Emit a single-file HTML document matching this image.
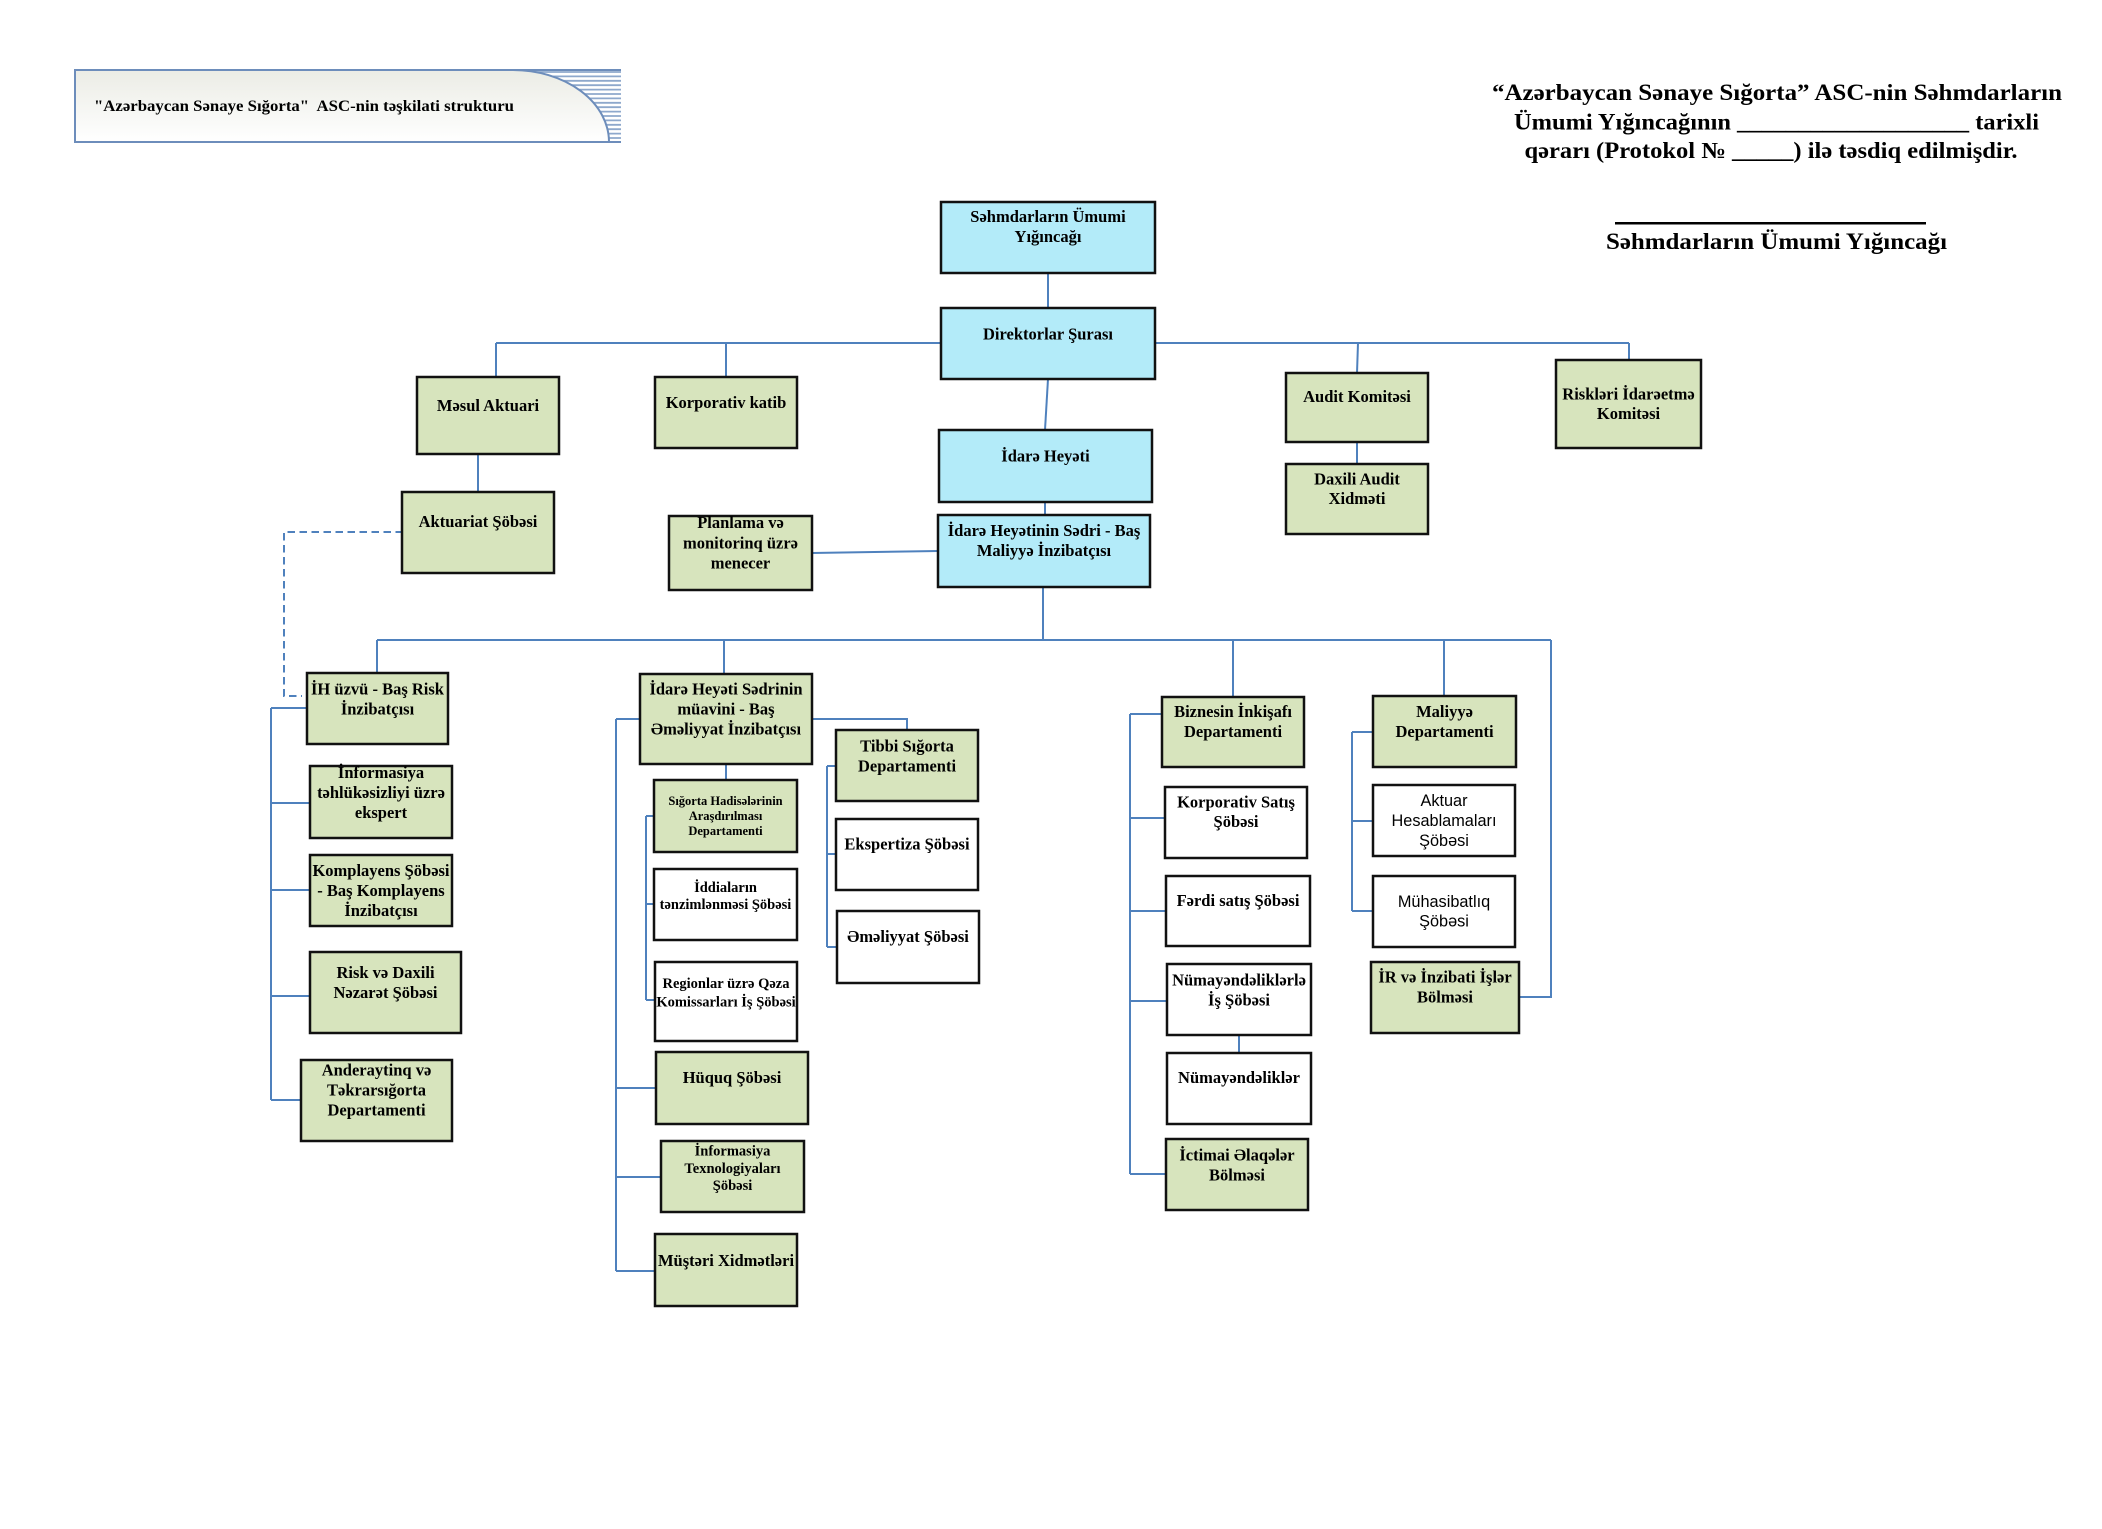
<!DOCTYPE html>
<html>
<head>
<meta charset="utf-8">
<style>
html,body{margin:0;padding:0;background:#fff;}
svg{display:block;}
.t{font-family:"Liberation Serif","DejaVu Serif",serif;font-weight:bold;fill:#000;text-anchor:middle;}
.a{font-family:"Liberation Sans","DejaVu Sans",sans-serif;font-weight:normal;fill:#000;text-anchor:middle;}
.bl{fill:#b3ebf9;stroke:#111;stroke-width:2.5;}
.gr{fill:#d7e4bd;stroke:#111;stroke-width:2.5;}
.wh{fill:#ffffff;stroke:#111;stroke-width:2.5;}
.c{stroke:#4f81bd;stroke-width:2;fill:none;}
</style>
</head>
<body>
<svg width="2102" height="1529" viewBox="0 0 2102 1529" xmlns="http://www.w3.org/2000/svg">
<defs>
<linearGradient id="bg" x1="0" y1="0" x2="0" y2="1">
<stop offset="0" stop-color="#ebece5"/>
<stop offset="1" stop-color="#ffffff"/>
</linearGradient>
</defs>
<rect width="2102" height="1529" fill="#fff"/>

<!-- Banner stripes -->
<g stroke="#8ea8cc" stroke-width="1.8">
<line x1="513" y1="72" x2="621" y2="72"/>
<line x1="513" y1="76.4" x2="621" y2="76.4"/>
<line x1="513" y1="80.8" x2="621" y2="80.8"/>
<line x1="513" y1="85.2" x2="621" y2="85.2"/>
<line x1="513" y1="89.6" x2="621" y2="89.6"/>
<line x1="513" y1="94" x2="621" y2="94"/>
<line x1="513" y1="98.4" x2="621" y2="98.4"/>
<line x1="513" y1="102.8" x2="621" y2="102.8"/>
<line x1="513" y1="107.2" x2="621" y2="107.2"/>
<line x1="513" y1="111.6" x2="621" y2="111.6"/>
<line x1="513" y1="116" x2="621" y2="116"/>
<line x1="513" y1="120.4" x2="621" y2="120.4"/>
<line x1="513" y1="124.8" x2="621" y2="124.8"/>
<line x1="513" y1="129.2" x2="621" y2="129.2"/>
<line x1="513" y1="133.6" x2="621" y2="133.6"/>
<line x1="513" y1="138" x2="621" y2="138"/>
</g>
<path d="M75,70 L513,70 A96,72 0 0 1 609,142 L75,142 Z" fill="url(#bg)" stroke="#6d8dbb" stroke-width="2"/>
<line x1="513" y1="70" x2="621" y2="70" stroke="#6d8dbb" stroke-width="2"/>
<line x1="609" y1="142" x2="621" y2="142" stroke="#6d8dbb" stroke-width="2"/>
<text x="94" y="111" font-family="Liberation Serif, DejaVu Serif, serif" font-weight="bold" font-size="16" xml:space="preserve" textLength="420" lengthAdjust="spacingAndGlyphs">"Azərbaycan Sənaye Sığorta"  ASC-nin təşkilati strukturu</text>

<!-- Right header -->
<text class="t" x="1777" y="100" font-size="23" textLength="570" lengthAdjust="spacingAndGlyphs">“Azərbaycan Sənaye Sığorta” ASC-nin Səhmdarların</text>
<text class="t" x="1776.5" y="129.5" font-size="23" textLength="525" lengthAdjust="spacingAndGlyphs">Ümumi Yığıncağının ___________________ tarixli</text>
<text class="t" x="1771" y="158" font-size="23" textLength="493" lengthAdjust="spacingAndGlyphs">qərarı (Protokol № _____) ilə təsdiq edilmişdir.</text>
<rect x="1615" y="222" width="311" height="2.5" fill="#000"/>
<text class="t" x="1776.5" y="249" font-size="23" textLength="341" lengthAdjust="spacingAndGlyphs">Səhmdarların Ümumi Yığıncağı</text>

<!-- Connectors -->
<g class="c">
<line x1="1048" y1="273" x2="1048" y2="308"/>
<line x1="496" y1="343" x2="1629" y2="343"/>
<line x1="496" y1="343" x2="496" y2="377"/>
<line x1="726" y1="343" x2="726" y2="377"/>
<line x1="1358" y1="343" x2="1357" y2="373"/>
<line x1="1629" y1="343" x2="1629" y2="360"/>
<line x1="1048" y1="379" x2="1045" y2="430"/>
<line x1="1045" y1="502" x2="1045" y2="515"/>
<line x1="478" y1="454" x2="478" y2="492"/>
<line x1="1357" y1="442" x2="1357" y2="464"/>
<line x1="812" y1="553" x2="938" y2="551"/>
<line x1="1043" y1="587" x2="1043" y2="640"/>
<line x1="377" y1="640" x2="1551" y2="640"/>
<line x1="377" y1="640" x2="377" y2="673"/>
<line x1="724" y1="640" x2="724" y2="674"/>
<line x1="1233" y1="640" x2="1233" y2="697"/>
<line x1="1444" y1="640" x2="1444" y2="696"/>
<polyline points="1551,640 1551,997 1519,997"/>
<!-- left bracket -->
<line x1="271" y1="708" x2="271" y2="1100"/>
<line x1="271" y1="708" x2="307" y2="708"/>
<line x1="271" y1="803" x2="310" y2="803"/>
<line x1="271" y1="890" x2="310" y2="890"/>
<line x1="271" y1="996" x2="310" y2="996"/>
<line x1="271" y1="1100" x2="301" y2="1100"/>
<!-- middle bracket -->
<line x1="616" y1="719" x2="616" y2="1271"/>
<line x1="616" y1="719" x2="640" y2="719"/>
<line x1="616" y1="1088" x2="656" y2="1088"/>
<line x1="616" y1="1177" x2="661" y2="1177"/>
<line x1="616" y1="1271" x2="655" y2="1271"/>
<polyline points="812,719 907,719 907,730"/>
<line x1="726" y1="764" x2="726" y2="780"/>
<line x1="646" y1="816" x2="646" y2="1000"/>
<line x1="646" y1="816" x2="654" y2="816"/>
<line x1="646" y1="904" x2="654" y2="904"/>
<line x1="646" y1="1000" x2="655" y2="1000"/>
<!-- Tibbi bracket -->
<line x1="827" y1="766" x2="827" y2="947"/>
<line x1="827" y1="766" x2="836" y2="766"/>
<line x1="827" y1="854" x2="836" y2="854"/>
<line x1="827" y1="947" x2="837" y2="947"/>
<!-- Biznes bracket -->
<line x1="1130" y1="714" x2="1130" y2="1174"/>
<line x1="1130" y1="714" x2="1162" y2="714"/>
<line x1="1130" y1="818" x2="1165" y2="818"/>
<line x1="1130" y1="911" x2="1166" y2="911"/>
<line x1="1130" y1="1001" x2="1167" y2="1001"/>
<line x1="1130" y1="1174" x2="1166" y2="1174"/>
<line x1="1239" y1="1035" x2="1239" y2="1053"/>
<!-- Maliyye bracket -->
<line x1="1352" y1="732" x2="1352" y2="911"/>
<line x1="1352" y1="732" x2="1373" y2="732"/>
<line x1="1352" y1="821" x2="1373" y2="821"/>
<line x1="1352" y1="911" x2="1373" y2="911"/>
</g>
<polyline points="403,532 284,532 284,696 302,696" fill="none" stroke="#4f81bd" stroke-width="2" stroke-dasharray="7.5,4.5"/>

<!-- Blue boxes -->
<rect class="bl" x="941" y="202" width="214" height="71"/>
<text class="t" x="1048" y="222" font-size="16.5">Səhmdarların Ümumi</text>
<text class="t" x="1048" y="242" font-size="16.5">Yığıncağı</text>

<rect class="bl" x="941" y="308" width="214" height="71"/>
<text class="t" x="1048" y="339.5" font-size="16.5">Direktorlar Şurası</text>

<rect class="bl" x="939" y="430" width="213" height="72"/>
<text class="t" x="1045.5" y="461.5" font-size="16.5">İdarə Heyəti</text>

<rect class="bl" x="938" y="515" width="212" height="72"/>
<text class="t" x="1044" y="536" font-size="16.5">İdarə Heyətinin Sədri - Baş</text>
<text class="t" x="1044" y="556" font-size="16.5">Maliyyə İnzibatçısı</text>

<!-- Green boxes top -->
<rect class="gr" x="417" y="377" width="142" height="77"/>
<text class="t" x="488" y="411" font-size="16.5">Məsul Aktuari</text>

<rect class="gr" x="655" y="377" width="142" height="71"/>
<text class="t" x="726" y="408" font-size="16.5">Korporativ katib</text>

<rect class="gr" x="402" y="492" width="152" height="81"/>
<text class="t" x="478" y="527" font-size="16.5">Aktuariat Şöbəsi</text>

<rect class="gr" x="669" y="516" width="143" height="74"/>
<text class="t" x="740.5" y="528" font-size="16.5">Planlama və</text>
<text class="t" x="740.5" y="548.5" font-size="16.5">monitorinq üzrə</text>
<text class="t" x="740.5" y="568.5" font-size="16.5">menecer</text>

<rect class="gr" x="1286" y="373" width="142" height="69"/>
<text class="t" x="1357" y="402" font-size="16.5">Audit Komitəsi</text>

<rect class="gr" x="1286" y="464" width="142" height="70"/>
<text class="t" x="1357" y="484.5" font-size="16.5">Daxili Audit</text>
<text class="t" x="1357" y="504" font-size="16.5">Xidməti</text>

<rect class="gr" x="1556" y="360" width="145" height="88"/>
<text class="t" x="1628.5" y="399.5" font-size="16.5">Riskləri İdarəetmə</text>
<text class="t" x="1628.5" y="419" font-size="16.5">Komitəsi</text>

<!-- Left column -->
<rect class="gr" x="307" y="673" width="141" height="71"/>
<text class="t" x="377.5" y="694.5" font-size="16.5">İH üzvü - Baş Risk</text>
<text class="t" x="377.5" y="714.5" font-size="16.5">İnzibatçısı</text>

<rect class="gr" x="310" y="766" width="142" height="72"/>
<text class="t" x="381" y="777.8" font-size="16.5">İnformasiya</text>
<text class="t" x="381" y="797.8" font-size="16.5">təhlükəsizliyi üzrə</text>
<text class="t" x="381" y="817.8" font-size="16.5">ekspert</text>

<rect class="gr" x="310" y="855" width="142" height="71"/>
<text class="t" x="381" y="876" font-size="16.5">Komplayens Şöbəsi</text>
<text class="t" x="381" y="896" font-size="16.5">- Baş Komplayens</text>
<text class="t" x="381" y="916" font-size="16.5">İnzibatçısı</text>

<rect class="gr" x="310" y="952" width="151" height="81"/>
<text class="t" x="385.5" y="978" font-size="16.5">Risk və Daxili</text>
<text class="t" x="385.5" y="998" font-size="16.5">Nəzarət Şöbəsi</text>

<rect class="gr" x="301" y="1060" width="151" height="81"/>
<text class="t" x="376.5" y="1075.5" font-size="16.5">Anderaytinq və</text>
<text class="t" x="376.5" y="1095.5" font-size="16.5">Təkrarsığorta</text>
<text class="t" x="376.5" y="1115.5" font-size="16.5">Departamenti</text>

<!-- Middle column -->
<rect class="gr" x="640" y="674" width="172" height="90"/>
<text class="t" x="726" y="694.5" font-size="16.5">İdarə Heyəti Sədrinin</text>
<text class="t" x="726" y="714.5" font-size="16.5">müavini - Baş</text>
<text class="t" x="726" y="734.5" font-size="16.5">Əməliyyat İnzibatçısı</text>

<rect class="gr" x="654" y="780" width="143" height="72"/>
<text class="t" x="725.5" y="805" font-size="12.5">Sığorta Hadisələrinin</text>
<text class="t" x="725.5" y="820" font-size="12.5">Araşdırılması</text>
<text class="t" x="725.5" y="835" font-size="12.5">Departamenti</text>

<rect class="wh" x="654" y="869" width="143" height="71"/>
<text class="t" x="725.5" y="892" font-size="14.5">İddiaların</text>
<text class="t" x="725.5" y="909" font-size="14.5">tənzimlənməsi Şöbəsi</text>

<rect class="wh" x="655" y="962" width="142" height="79"/>
<text class="t" x="726" y="988" font-size="14.5">Regionlar üzrə Qəza</text>
<text class="t" x="726" y="1006.5" font-size="14.5">Komissarları İş Şöbəsi</text>

<rect class="gr" x="656" y="1052" width="152" height="72"/>
<text class="t" x="732" y="1083" font-size="16.5">Hüquq Şöbəsi</text>

<rect class="gr" x="661" y="1141" width="143" height="71"/>
<text class="t" x="732.5" y="1155.5" font-size="14.5">İnformasiya</text>
<text class="t" x="732.5" y="1173" font-size="14.5">Texnologiyaları</text>
<text class="t" x="732.5" y="1190" font-size="14.5">Şöbəsi</text>

<rect class="gr" x="655" y="1234" width="142" height="72"/>
<text class="t" x="726" y="1266" font-size="16.5">Müştəri Xidmətləri</text>

<!-- Tibbi column -->
<rect class="gr" x="836" y="730" width="142" height="71"/>
<text class="t" x="907" y="751.5" font-size="16.5">Tibbi Sığorta</text>
<text class="t" x="907" y="771.5" font-size="16.5">Departamenti</text>

<rect class="wh" x="836" y="819" width="142" height="71"/>
<text class="t" x="907" y="849.5" font-size="16.5">Ekspertiza Şöbəsi</text>

<rect class="wh" x="837" y="911" width="142" height="72"/>
<text class="t" x="908" y="942" font-size="16.5">Əməliyyat Şöbəsi</text>

<!-- Biznes column -->
<rect class="gr" x="1162" y="697" width="142" height="70"/>
<text class="t" x="1233" y="717" font-size="16.5">Biznesin İnkişafı</text>
<text class="t" x="1233" y="737" font-size="16.5">Departamenti</text>

<rect class="wh" x="1165" y="787" width="142" height="71"/>
<text class="t" x="1236" y="807.5" font-size="16.5">Korporativ Satış</text>
<text class="t" x="1236" y="827" font-size="16.5">Şöbəsi</text>

<rect class="wh" x="1166" y="876" width="144" height="70"/>
<text class="t" x="1238" y="906" font-size="16.5">Fərdi satış Şöbəsi</text>

<rect class="wh" x="1167" y="964" width="144" height="71"/>
<text class="t" x="1239" y="985.5" font-size="16.5">Nümayəndəliklərlə</text>
<text class="t" x="1239" y="1005.5" font-size="16.5">İş Şöbəsi</text>

<rect class="wh" x="1167" y="1053" width="144" height="71"/>
<text class="t" x="1239" y="1083" font-size="16.5">Nümayəndəliklər</text>

<rect class="gr" x="1166" y="1139" width="142" height="71"/>
<text class="t" x="1237" y="1160.5" font-size="16.5">İctimai Əlaqələr</text>
<text class="t" x="1237" y="1180.5" font-size="16.5">Bölməsi</text>

<!-- Maliyye column -->
<rect class="gr" x="1373" y="696" width="143" height="71"/>
<text class="t" x="1444.5" y="717" font-size="16.5">Maliyyə</text>
<text class="t" x="1444.5" y="737" font-size="16.5">Departamenti</text>

<rect class="wh" x="1373" y="785" width="142" height="71"/>
<text class="a" x="1444" y="806" font-size="16.3">Aktuar</text>
<text class="a" x="1444" y="826" font-size="16.3">Hesablamaları</text>
<text class="a" x="1444" y="846" font-size="16.3">Şöbəsi</text>

<rect class="wh" x="1373" y="876" width="142" height="71"/>
<text class="a" x="1444" y="907" font-size="16.3">Mühasibatlıq</text>
<text class="a" x="1444" y="926.5" font-size="16.3">Şöbəsi</text>

<rect class="gr" x="1371" y="962" width="148" height="71"/>
<text class="t" x="1445" y="982.5" font-size="16.5">İR və İnzibati İşlər</text>
<text class="t" x="1445" y="1002.5" font-size="16.5">Bölməsi</text>
</svg>
</body>
</html>
